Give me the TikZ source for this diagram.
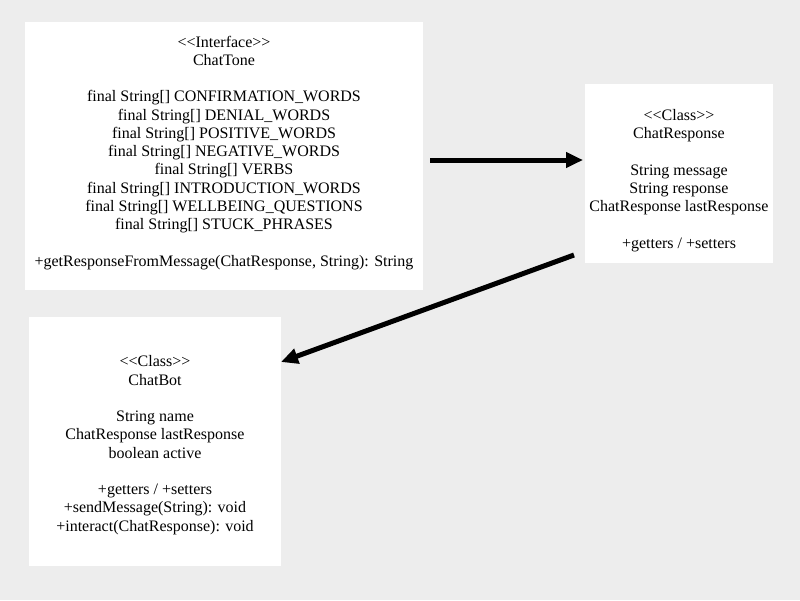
\documentclass[tikz,border=0pt]{standalone}
\usepackage{fontspec}
\setmainfont{Liberation Serif}
\usetikzlibrary{arrows.meta}
\begin{document}
\begin{tikzpicture}[x=1pt,y=-1pt,
  box/.style={fill=white,draw=none,inner sep=0pt,anchor=north west},
  txt/.style={align=center,inner sep=0pt,anchor=base,font=\fontsize{16}{18.25}\selectfont},
  conn/.style={line width=5pt,-{Triangle[length=17pt,width=15pt]}}]
\fill[fill=black!7] (0,0) rectangle (800,600);
\useasboundingbox (0,0) rectangle (800,600);
\node[box,minimum width=398pt,minimum height=268pt] (tone) at (25,22) {};
\node[box,minimum width=188pt,minimum height=179pt] (resp) at (585,84) {};
\node[box,minimum width=252pt,minimum height=249pt] (bot) at (29,317) {};
\node[txt] (tonetxt) at (224,266) {<{}<Interface>{}>\\ChatTone\\[18.25pt]
final String[] CONFIRMATION\_WORDS\\final String[] DENIAL\_WORDS\\
final String[] POSITIVE\_WORDS\\final String[] NEGATIVE\_WORDS\\
final String[] VERBS\\final String[] INTRODUCTION\_WORDS\\
final String[] WELLBEING\_QUESTIONS\\final String[] STUCK\_PHRASES\\[18.25pt]
+getResponseFromMessage(ChatResponse, String): String};
\node[txt] (resptxt) at (679,248) {<{}<Class>{}>\\ChatResponse\\[18.25pt]
String message\\String response\\ChatResponse lastResponse\\[18.25pt]
+getters / +setters};
\node[txt] (bottxt) at (155,531) {<{}<Class>{}>\\ChatBot\\[18.25pt]
String name\\ChatResponse lastResponse\\boolean active\\[18.25pt]
+getters / +setters\\+sendMessage(String): void\\+interact(ChatResponse): void};
\coordinate (a1s) at (430,160);
\coordinate (a1e) at (583,160);
\coordinate (a2s) at (574,255);
\coordinate (a2e) at (281,362);
\draw[conn] (a1s) -- (a1e);
\draw[conn] (a2s) -- (a2e);
\end{tikzpicture}
\end{document}
